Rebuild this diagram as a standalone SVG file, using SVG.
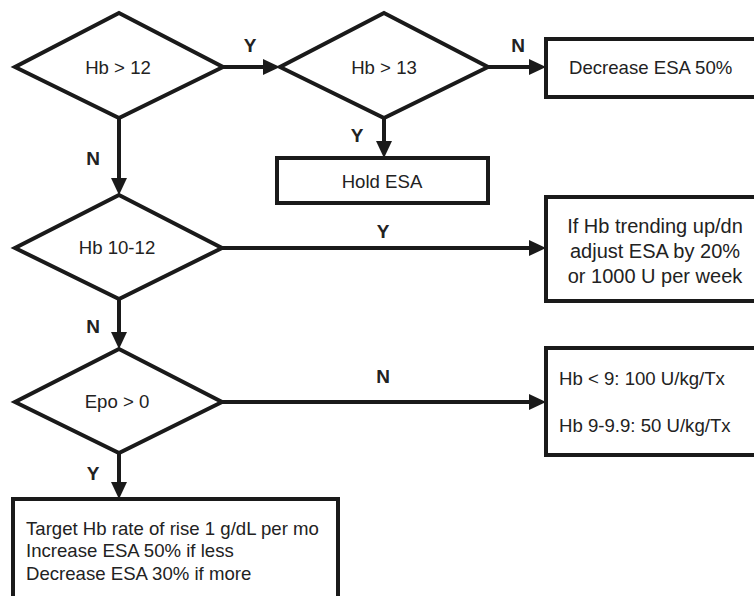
<svg xmlns="http://www.w3.org/2000/svg" width="754" height="596" viewBox="0 0 754 596">
<defs>
<style>
.shape{fill:#fff;stroke:#1a1a1a;stroke-width:4;stroke-linejoin:miter}
.conn{fill:none;stroke:#1a1a1a;stroke-width:4}
.t{font-family:"Liberation Sans",Arial,sans-serif;font-size:18.6px;fill:#222}
.big{font-size:20px}
.m{text-anchor:middle}
.lbl{font-family:"Liberation Sans",Arial,sans-serif;font-size:19px;font-weight:bold;fill:#222;text-anchor:middle}
</style>
<marker id="ah" markerUnits="userSpaceOnUse" markerWidth="18" markerHeight="18" refX="11" refY="8" orient="auto">
<path d="M0,0 L17,8 L0,16 z" fill="#1a1a1a"/>
</marker>
</defs>
<rect width="754" height="596" fill="#fff"/>
<g id="connectors">
<line class="conn" x1="223" y1="67" x2="274" y2="67" marker-end="url(#ah)"/>
<line class="conn" x1="488" y1="67" x2="540" y2="67" marker-end="url(#ah)"/>
<line class="conn" x1="384" y1="118" x2="384" y2="152" marker-end="url(#ah)"/>
<line class="conn" x1="119" y1="118" x2="119" y2="189" marker-end="url(#ah)"/>
<line class="conn" x1="222" y1="248" x2="540" y2="248" marker-end="url(#ah)"/>
<line class="conn" x1="119" y1="299" x2="119" y2="343" marker-end="url(#ah)"/>
<line class="conn" x1="222" y1="402" x2="540" y2="402" marker-end="url(#ah)"/>
<line class="conn" x1="119" y1="453" x2="119" y2="493" marker-end="url(#ah)"/>
<text class="lbl" x="250" y="52">Y</text>
<text class="lbl" x="518" y="52">N</text>
<text class="lbl" x="357" y="142">Y</text>
<text class="lbl" x="93" y="165">N</text>
<text class="lbl" x="383" y="238">Y</text>
<text class="lbl" x="93" y="333">N</text>
<text class="lbl" x="383" y="383">N</text>
<text class="lbl" x="93" y="480">Y</text>
</g>
<g id="d1">
<polygon class="shape" points="119,13 223,67 119,118 15,67"/>
<text class="t m" x="118" y="74">Hb &gt; 12</text>
</g>
<g id="d2">
<polygon class="shape" points="384,13 488,67 384,118 280,67"/>
<text class="t m" x="384" y="74">Hb &gt; 13</text>
</g>
<g id="b_decrease">
<rect class="shape" x="546" y="39" width="220" height="58"/>
<text class="t" x="569" y="74">Decrease ESA 50%</text>
</g>
<g id="b_hold">
<rect class="shape" x="277" y="158" width="211" height="45"/>
<text class="t m" x="382" y="188">Hold ESA</text>
</g>
<g id="d3">
<polygon class="shape" points="119,195 222,248 119,299 15,248"/>
<text class="t m" x="117" y="254">Hb 10-12</text>
</g>
<g id="b_adjust">
<rect class="shape" x="546" y="197" width="220" height="104"/>
<text class="t big m" x="655" y="233">If Hb trending up/dn</text>
<text class="t big m" x="655" y="258">adjust ESA by 20%</text>
<text class="t big m" x="655" y="283">or 1000 U per week</text>
</g>
<g id="d4">
<polygon class="shape" points="119,349 222,402 119,453 15,402"/>
<text class="t m" x="117" y="408">Epo &gt; 0</text>
</g>
<g id="b_dose">
<rect class="shape" x="546" y="348" width="220" height="107"/>
<text class="t" x="559" y="385">Hb &lt; 9: 100 U/kg/Tx</text>
<text class="t" x="559" y="432">Hb 9-9.9: 50 U/kg/Tx</text>
</g>
<g id="b_target">
<rect class="shape" x="13" y="499" width="325" height="110"/>
<text class="t" x="26" y="535">Target Hb rate of rise 1 g/dL per mo</text>
<text class="t" x="26" y="557">Increase ESA 50% if less</text>
<text class="t" x="26" y="580">Decrease ESA 30% if more</text>
</g>
</svg>
